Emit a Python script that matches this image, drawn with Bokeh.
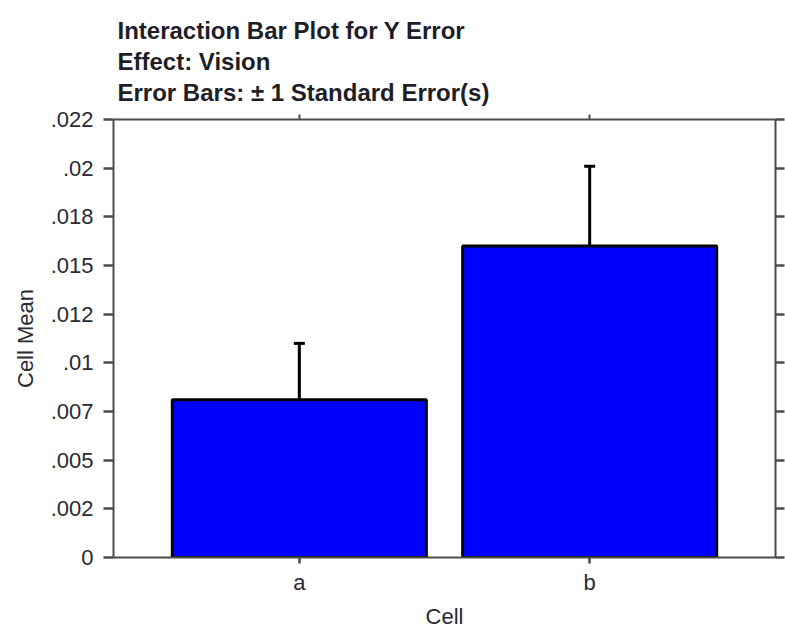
from bokeh.plotting import figure
from bokeh.models import (ColumnDataSource, FactorRange, Range1d, FixedTicker,
                          LinearAxis, CategoricalAxis, Title, Whisker, TeeHead,
                          CustomLabelingPolicy)
from bokeh.embed import file_html
from bokeh.resources import INLINE

# Cell means and their standard errors
cells = ["a", "b"]
means = [0.0081, 0.0160]
std_err = [0.0029, 0.0041]

# Y axis ticks and the labels printed at them
y_ticks = [0.0, 0.0025, 0.005, 0.0075, 0.01, 0.0125, 0.015, 0.0175, 0.02, 0.0225]
y_labels = ["0", ".002", ".005", ".007", ".01", ".012", ".015", ".018", ".02", ".022"]

title_lines = [
    "Interaction Bar Plot for Y Error",
    "Effect: Vision",
    "Error Bars: \u00b1 1 Standard Error(s)",
]

FONT = "Liberation Sans"
AXIS_COLOR = "#4d4d4d"
TEXT_COLOR = "#2a2a33"

src = ColumnDataSource(dict(
    cell=cells,
    mean=means,
    upper=[m + s for m, s in zip(means, std_err)],
))

p = figure(
    x_range=FactorRange(factors=cells, range_padding=0.14, range_padding_units="absolute"),
    y_range=Range1d(0, 0.0225),
    frame_width=662, frame_height=438,
    min_border_left=113, min_border_right=10, min_border_top=119, min_border_bottom=78,
    output_backend="svg", toolbar_location=None,
    background_fill_color="white", border_fill_color="white",
)
p.title = None
p.outline_line_color = None
p.xgrid.visible = False
p.ygrid.visible = False

# Bars
p.vbar(x="cell", top="mean", width=0.875, source=src,
       fill_color="#0000ff", line_color="black", line_width=3)

# Upper error bars
whisk = Whisker(base="cell", upper="upper", lower="mean", source=src,
                dimension="height", line_color="black", line_width=3,
                upper_head=TeeHead(size=11, line_color="black", line_width=3),
                lower_head=None)
p.add_layout(whisk)

yticker = FixedTicker(ticks=y_ticks)
overrides = {t: l for t, l in zip(y_ticks, y_labels)}

# Left axis
ya = p.yaxis[0]
ya.ticker = yticker
ya.major_label_overrides = overrides
ya.axis_label = "Cell Mean"

# Bottom axis
xa = p.xaxis[0]
xa.axis_label = "Cell"

for ax in (ya, xa):
    ax.axis_line_color = AXIS_COLOR
    ax.axis_line_width = 2
    ax.major_tick_line_color = AXIS_COLOR
    ax.major_tick_line_width = 2.5
    ax.minor_tick_line_color = None
    ax.major_tick_in = 0
    ax.major_label_text_font = FONT
    ax.major_label_text_font_size = "22px"
    ax.major_label_text_color = TEXT_COLOR
    ax.axis_label_text_font = FONT
    ax.axis_label_text_font_size = "22px"
    ax.axis_label_text_font_style = "normal"
    ax.axis_label_text_color = TEXT_COLOR

ya.major_tick_out = 10
ya.major_label_standoff = 10
ya.axis_label_standoff = 10
xa.major_tick_out = 6
xa.major_label_standoff = 6
xa.axis_label_standoff = 6

# Tick-only axes on the right and top: every label is dropped
no_labels = CustomLabelingPolicy(code="""
try {
  const n = indices.size;
  for (let i = 0; i < n; i++) { indices.set(i, false); }
} catch (e) {}
return indices;
""")

ra = LinearAxis(ticker=yticker, major_label_policy=no_labels,
                major_label_text_font_size="0px",
                major_tick_in=0, major_tick_out=9, minor_tick_line_color=None,
                axis_line_color=AXIS_COLOR, axis_line_width=2,
                major_tick_line_color=AXIS_COLOR, major_tick_line_width=2.5,
                major_label_standoff=0)
p.add_layout(ra, "right")

ta = CategoricalAxis(major_label_policy=no_labels,
                     major_label_text_font_size="0px",
                     major_tick_in=0, major_tick_out=5,
                     axis_line_color=AXIS_COLOR, axis_line_width=2,
                     major_tick_line_color=AXIS_COLOR, major_tick_line_width=2,
                     major_label_standoff=0)
p.add_layout(ta, "above")

# Blank band between the top axis and the title block
gap = CategoricalAxis(major_label_policy=no_labels,
                      major_label_text_font_size="0px",
                      major_tick_in=0, major_tick_out=8,
                      axis_line_color=None, major_tick_line_color=None,
                      major_label_standoff=0)
p.add_layout(gap, "above")

# Title block, innermost line first
for line in reversed(title_lines):
    p.add_layout(Title(text=line, align="left", offset=4, standoff=2,
                       text_font=FONT, text_font_size="24px",
                       text_font_style="bold", text_color="#1e1e28"), "above")

open("out.html", "w").write(file_html(p, INLINE))
